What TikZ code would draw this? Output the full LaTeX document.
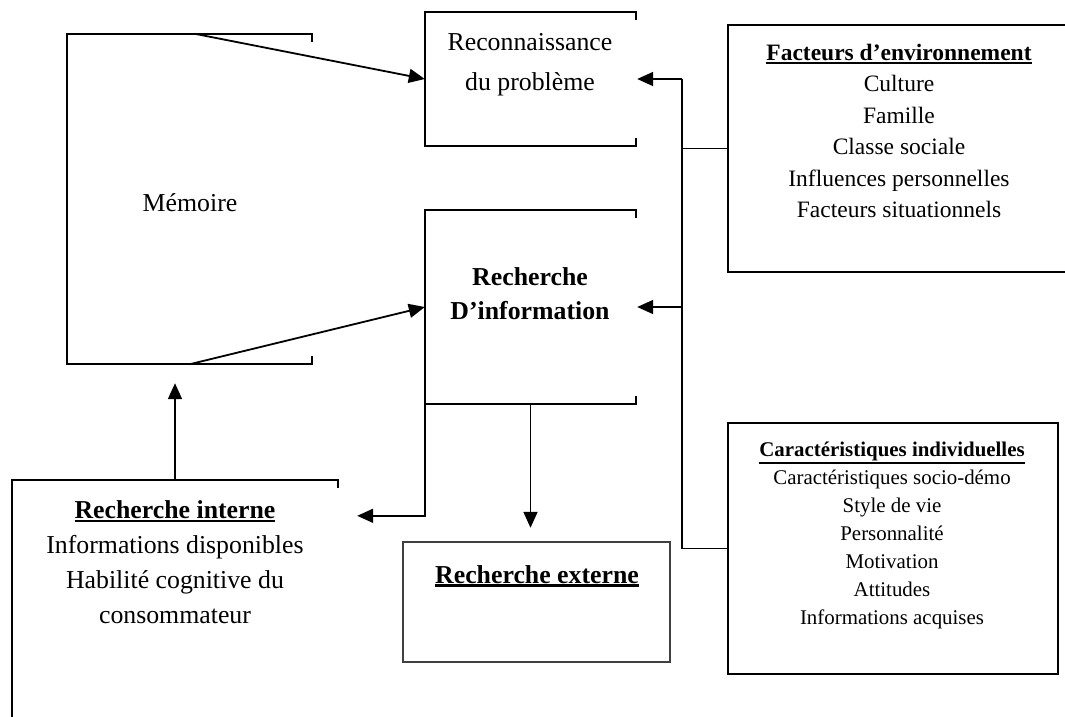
\documentclass[tikz,border=0pt]{standalone}
\usepackage{fontspec}
\setmainfont{Liberation Serif}
\usetikzlibrary{arrows.meta,calc}
\newcommand\thul[1]{\leavevmode\vtop{\hbox{#1}\kern1.2pt\hrule height 2.4pt}}
\begin{document}
\begin{tikzpicture}[x=1pt,y=-1pt,
  area/.style={draw=none,rectangle,inner sep=0pt},
  edge/.style={line width=2.2pt,line join=miter},
  conn/.style={line width=1.8pt},
  arr/.style={conn,-{Triangle[length=16pt,width=14pt]}},
  big/.style={font=\fontsize{25.8}{35}\selectfont,align=center,inner sep=0pt},
  mid/.style={font=\fontsize{23.5}{31.4}\selectfont,align=center,inner sep=0pt},
  small/.style={font=\fontsize{20.9}{28}\selectfont,align=center,inner sep=0pt}]
\useasboundingbox (0,0) rectangle (1065,716);
% box areas
\node[area,minimum width=245pt,minimum height=330pt] (mem) at (189.5,199) {};
\node[area,minimum width=211pt,minimum height=134pt] (rec) at (530.5,79) {};
\node[area,minimum width=211pt,minimum height=194pt] (rdi) at (530.5,307) {};
\node[area,minimum width=338pt,minimum height=247pt] (fac) at (897,148.5) {};
\node[area,minimum width=330pt,minimum height=251pt] (car) at (893,548.5) {};
\node[area,minimum width=326pt,minimum height=244pt] (ri) at (175,602) {};
\node[area,minimum width=267pt,minimum height=120pt] (re) at (536.5,602) {};
% open-sided borders
\foreach \b in {mem,rec,rdi}{
  \draw[edge] ([yshift=-8pt]\b.north east) -- (\b.north east) -- (\b.north west)
    -- (\b.south west) -- (\b.south east) -- ([yshift=8pt]\b.south east);
}
\draw[edge] ([yshift=-8pt]ri.north east) -- (ri.north east) -- (ri.north west) -- (ri.south west);
\draw[edge] ([yshift=6pt]ri.south east) -- ([yshift=-20pt]ri.south east);
\draw[edge] (fac.north east) -- (fac.north west) -- (fac.south west) -- (fac.south east);
\draw[edge] (car.north west) rectangle (car.south east);
\draw[edge,draw=black!75] (re.north west) rectangle (re.south east);
% texts
\node[big] (tmem) at (190,203) {Mémoire};
\node[big,font=\fontsize{25.8}{40}\selectfont] (trec) at (530,65) {Reconnaissance\\du problème};
\node[big,font=\bfseries\fontsize{25.8}{34}\selectfont] (trdi) at (530,294) {Recherche\\D’information};
\node[mid] (tfac) at (899,131) {\textbf{\thul{Facteurs d’environnement}}\\Culture\\Famille\\Classe sociale\\Influences personnelles\\Facteurs situationnels};
\node[small] (tcar) at (892,535) {\textbf{\thul{Caractéristiques individuelles}}\\Caractéristiques socio-démo\\Style de vie\\Personnalité\\Motivation\\Attitudes\\Informations acquises};
\node[big] (tri) at (175,562) {\textbf{\thul{Recherche interne}}\\Informations disponibles\\Habilité cognitive du\\consommateur};
\node[big] (tre) at (537,576) {\textbf{\thul{Recherche externe}}};
% connectors
\draw[arr] ([xshift=128pt]mem.north west) -- (rec.west);
\draw[arr] ([xshift=123pt]mem.south west) -- (rdi.west);
\coordinate (bus) at (682,79);
\draw[arr] (bus) -- ([xshift=1pt]rec.east);
\draw[conn] (bus) |- (car.west);
\draw[conn] (fac.west) -- (fac.west -| bus);
\draw[arr] (rdi.east -| bus) -- ([xshift=1pt]rdi.east);
\coordinate (rin) at ($(ri.north east)+(19,36)$);
\draw[arr] (rdi.south west) |- (rin);
\draw[arr] (rdi.south) -- ([yshift=14pt]re.north -| rdi.south);
\draw[arr] (ri.north) -- ([yshift=-19pt]mem.south -| ri.north);
\end{tikzpicture}
\end{document}
